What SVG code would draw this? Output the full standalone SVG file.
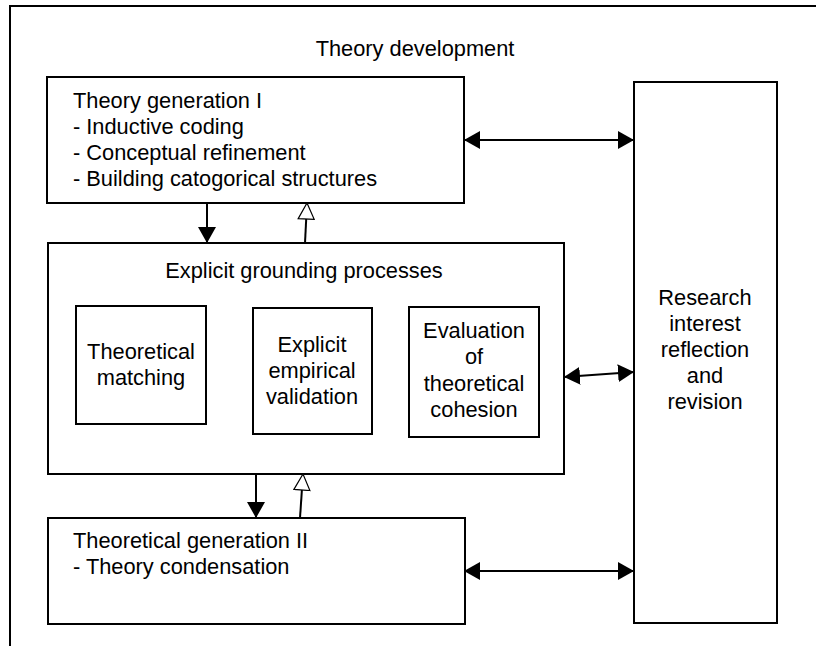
<svg xmlns="http://www.w3.org/2000/svg" width="816" height="646" viewBox="0 0 816 646">
<defs>
<style>
.box{fill:#fff;stroke:#000;stroke-width:2}
.t{font-family:"Liberation Sans",Arial,sans-serif;font-size:21.8px;fill:#000}
.c{text-anchor:middle}
.ln{stroke:#000;stroke-width:2;fill:none}
</style>
<marker id="fb" viewBox="0 0 16 18" refX="16" refY="9" markerWidth="16" markerHeight="18" orient="auto-start-reverse" markerUnits="userSpaceOnUse">
<path d="M0,0 L16,9 L0,18 Z" fill="#000"/>
</marker>
<marker id="ho" viewBox="0 0 18 18" refX="17" refY="9" markerWidth="18" markerHeight="18" orient="auto" markerUnits="userSpaceOnUse">
<path d="M1,1 L17,9 L1,17 Z" fill="#fff" stroke="#000" stroke-width="1.2"/>
</marker>
</defs>
<rect width="816" height="646" fill="#fff"/>
<path d="M10,646 V6 H816" fill="none" stroke="#000" stroke-width="2"/>
<text class="t c" x="415" y="56">Theory development</text>

<g id="gen1">
<rect class="box" x="47" y="77" width="417" height="126"/>
<text class="t" x="73" y="108">Theory generation I</text>
<text class="t" x="73" y="134">- Inductive coding</text>
<text class="t" x="73" y="160">- Conceptual refinement</text>
<text class="t" x="73" y="186">- Building catogorical structures</text>
</g>

<g id="research">
<rect class="box" x="634" y="82" width="143" height="541"/>
<text class="t c" x="705" y="305">Research</text>
<text class="t c" x="705" y="331">interest</text>
<text class="t c" x="705" y="357">reflection</text>
<text class="t c" x="705" y="383">and</text>
<text class="t c" x="705" y="409">revision</text>
</g>

<g id="grounding">
<rect class="box" x="48" y="243" width="516" height="231"/>
<text class="t c" x="304" y="278">Explicit grounding processes</text>
</g>

<g id="matching">
<rect class="box" x="76" y="306" width="130" height="118"/>
<text class="t c" x="141" y="359">Theoretical</text>
<text class="t c" x="141" y="385">matching</text>
</g>

<g id="validation">
<rect class="box" x="253" y="308" width="119" height="126"/>
<text class="t c" x="312" y="352">Explicit</text>
<text class="t c" x="312" y="378">empirical</text>
<text class="t c" x="312" y="404">validation</text>
</g>

<g id="cohesion">
<rect class="box" x="409" y="307" width="130" height="130"/>
<text class="t c" x="474" y="338">Evaluation</text>
<text class="t c" x="474" y="364">of</text>
<text class="t c" x="474" y="391">theoretical</text>
<text class="t c" x="474" y="417">cohesion</text>
</g>

<g id="gen2">
<rect class="box" x="48" y="518" width="417" height="106"/>
<text class="t" x="73" y="548">Theoretical generation II</text>
<text class="t" x="73" y="574">- Theory condensation</text>
</g>

<g id="connectors">
<line class="ln" x1="207" y1="203" x2="207" y2="243" marker-end="url(#fb)"/>
<line class="ln" x1="305" y1="243" x2="307" y2="203" marker-end="url(#ho)"/>
<line class="ln" x1="256" y1="474" x2="256" y2="518" marker-end="url(#fb)"/>
<line class="ln" x1="300" y1="518" x2="303" y2="474" marker-end="url(#ho)"/>
<line class="ln" x1="464" y1="140" x2="634" y2="140" marker-start="url(#fb)" marker-end="url(#fb)"/>
<line class="ln" x1="564" y1="377" x2="634" y2="372" marker-start="url(#fb)" marker-end="url(#fb)"/>
<line class="ln" x1="464" y1="571" x2="634" y2="571" marker-start="url(#fb)" marker-end="url(#fb)"/>
</g>
</svg>
